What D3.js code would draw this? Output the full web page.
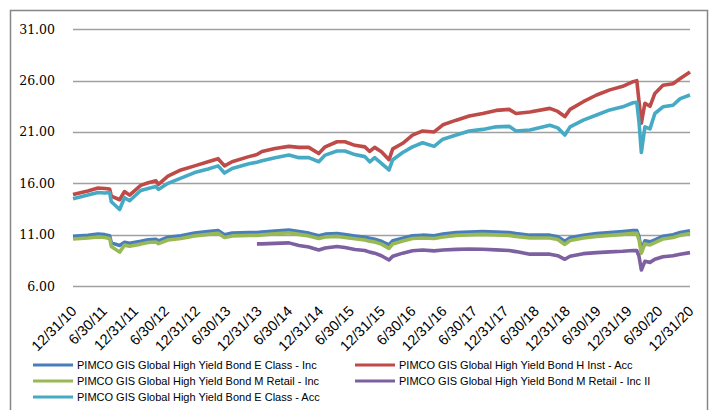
<!DOCTYPE html>
<html>
<head>
<meta charset="utf-8">
<script src="https://cdn.jsdelivr.net/npm/d3@7"></script>
<style>
  body { margin: 0; background: #fff; }
  svg { display: block; }
</style>
</head>
<body>
<svg id="chart" width="713" height="410"></svg>
<script>
var dates = ["2010-12-31","2011-03-29","2011-05-28","2011-07-07","2011-08-05","2011-08-15","2011-10-03","2011-11-01","2011-12-01",
  "2012-02-05","2012-03-20","2012-05-05","2012-05-20","2012-07-15","2012-09-30","2012-12-20","2013-03-10","2013-05-08","2013-06-15",
  "2013-07-30","2013-11-06","2013-12-24","2014-01-23","2014-04-10","2014-07-01","2014-08-30","2014-10-27","2014-12-25","2015-02-01",
  "2015-04-12","2015-05-29","2015-07-27","2015-09-24","2015-10-23","2015-11-21","2015-12-31","2016-02-14","2016-03-07","2016-05-05",
  "2016-07-02","2016-08-31","2016-11-07","2016-12-29","2017-03-18","2017-06-03","2017-08-22","2017-11-09","2018-01-25","2018-03-07",
  "2018-05-28","2018-09-23","2018-11-09","2018-12-21","2019-01-21","2019-04-09","2019-06-27","2019-09-13","2019-11-29","2020-01-29",
  "2020-02-20","2020-03-04","2020-03-18","2020-04-08","2020-05-08","2020-06-06","2020-07-24","2020-09-21","2020-11-03","2020-12-31"];

var eInc = [10.85,10.95,11.05,11.0,10.9,10.2,9.95,10.25,10.15,
  10.35,10.5,10.55,10.4,10.75,10.9,11.15,11.3,11.4,11.0,
  11.15,11.2,11.2,11.25,11.35,11.45,11.3,11.15,10.9,11.05,
  11.1,11.0,10.87,10.75,10.64,10.55,10.35,10.0,10.4,10.65,
  10.9,10.95,10.9,11.05,11.2,11.25,11.3,11.25,11.2,11.1,
  10.95,10.95,10.8,10.35,10.7,10.95,11.1,11.2,11.3,11.4,
  11.4,10.8,9.5,10.4,10.3,10.5,10.85,11.0,11.2,11.39];

var hInstAcc = [14.9,15.25,15.55,15.5,15.45,14.75,14.4,15.2,14.85,
  15.8,16.05,16.25,15.9,16.7,17.3,17.7,18.1,18.4,17.7,
  18.1,18.6,18.8,19.1,19.4,19.6,19.5,19.5,18.9,19.55,
  20.05,20.05,19.7,19.55,19.1,19.5,19.08,18.3,19.35,19.9,
  20.7,21.1,21.0,21.7,22.15,22.55,22.8,23.1,23.2,22.8,
  22.95,23.3,23.0,22.5,23.2,23.95,24.6,25.1,25.45,25.9,
  26.0,24.0,21.85,23.8,23.5,24.75,25.55,25.7,26.2,26.85];

var mRetailInc = [10.58,10.68,10.78,10.73,10.63,9.85,9.3,9.98,9.88,
  10.08,10.23,10.28,10.13,10.48,10.63,10.88,11.03,11.13,10.73,
  10.88,10.93,10.93,10.98,11.08,11.18,11.03,10.88,10.63,10.78,
  10.83,10.73,10.6,10.48,10.37,10.28,10.08,9.67,10.1,10.38,
  10.63,10.68,10.63,10.78,10.93,10.98,11.03,10.98,10.93,10.83,
  10.68,10.68,10.53,10.05,10.43,10.68,10.83,10.93,11.03,11.13,
  11.13,10.5,9.2,10.1,10.0,10.22,10.58,10.73,10.93,11.12];

var mRetailIncII = [null,null,null,null,null,null,null,null,null,
  null,null,null,null,null,null,null,null,null,null,
  null,null,10.1,10.1,10.15,10.2,9.95,9.8,9.5,9.7,
  9.85,9.75,9.55,9.45,9.3,9.2,8.95,8.53,8.9,9.2,
  9.44,9.5,9.42,9.5,9.57,9.6,9.58,9.52,9.45,9.35,
  9.1,9.1,8.95,8.6,8.9,9.15,9.25,9.32,9.38,9.45,
  9.45,8.9,7.56,8.4,8.3,8.6,8.85,8.95,9.1,9.25];

var eAcc = [14.5,14.86,15.1,15.05,15.1,14.2,13.45,14.6,14.3,
  15.3,15.5,15.7,15.4,16.0,16.5,17.05,17.4,17.7,17.0,
  17.45,17.9,18.05,18.2,18.5,18.75,18.5,18.5,18.1,18.75,
  19.15,19.15,18.8,18.6,18.1,18.5,17.95,17.3,18.3,19.0,
  19.55,19.95,19.6,20.3,20.7,21.1,21.25,21.5,21.55,21.1,
  21.2,21.65,21.4,20.7,21.5,22.15,22.65,23.15,23.45,23.85,
  23.9,22.0,19.0,21.5,21.3,22.8,23.45,23.6,24.25,24.6];

var seriesNames = [
  "PIMCO GIS Global High Yield Bond E Class - Inc",
  "PIMCO GIS Global High Yield Bond H Inst - Acc",
  "PIMCO GIS Global High Yield Bond M Retail - Inc",
  "PIMCO GIS Global High Yield Bond M Retail - Inc II",
  "PIMCO GIS Global High Yield Bond E Class - Acc"
];
var seriesColors = ["#4A7EBB", "#BE4B48", "#98B954", "#7D60A0", "#46AAC5"];
var yTicks = [6, 11, 16, 21, 26, 31];
var xTicks = ["2010-12-31","2011-06-30","2011-12-31","2012-06-30","2012-12-31","2013-06-30","2013-12-31",
  "2014-06-30","2014-12-31","2015-06-30","2015-12-31","2016-06-30","2016-12-31","2017-06-30","2017-12-31",
  "2018-06-30","2018-12-31","2019-06-30","2019-12-31","2020-06-30","2020-12-31"];

var parse = d3.timeParse("%Y-%m-%d");
var allSeries = [eInc, hInstAcc, mRetailInc, mRetailIncII, eAcc];

var svg = d3.select("#chart");

// chart frame
svg.append("rect")
  .attr("x", 10.5).attr("y", 10.5)
  .attr("width", 697).attr("height", 420)
  .attr("fill", "none")
  .attr("stroke", "#868686")
  .attr("stroke-width", 1.5);

var x = d3.scaleTime()
  .domain([parse("2010-12-31"), parse("2020-12-31")])
  .range([73, 690]);

var y = d3.scaleLinear()
  .domain([6, 31])
  .range([286, 29.3]);

// gridlines
svg.append("g")
  .selectAll("line")
  .data(yTicks)
  .enter()
  .append("line")
  .attr("x1", 73).attr("x2", 690)
  .attr("y1", d => Math.round(y(d)) + 0.5)
  .attr("y2", d => Math.round(y(d)) + 0.5)
  .attr("stroke", "#A0A0A0")
  .attr("stroke-width", 1.3);

// y axis labels
var yAxis = svg.append("g")
  .attr("transform", "translate(73,0)")
  .call(d3.axisLeft(y).tickValues(yTicks).tickFormat(d3.format(".2f")).tickSize(0).tickPadding(18));
yAxis.select(".domain").remove();
yAxis.selectAll("text")
  .attr("font-family", "'DejaVu Serif', serif")
  .attr("font-size", 12.5)
  .attr("fill", "#000");

// x axis labels, slanted
var xAxis = svg.append("g")
  .attr("transform", "translate(0,286)")
  .call(d3.axisBottom(x).tickValues(xTicks.map(parse)).tickFormat(d3.timeFormat("%-m/%-d/%y")).tickSize(0));
xAxis.select(".domain").remove();
xAxis.selectAll("text")
  .attr("font-family", "'Liberation Sans', Arial, sans-serif")
  .attr("font-size", 14.5)
  .attr("fill", "#000")
  .attr("text-anchor", "end")
  .attr("dy", null)
  .attr("y", 0)
  .attr("transform", "translate(4,26) rotate(-45)");

// lines
var line = d3.line()
  .defined(d => d.v != null)
  .x(d => x(d.date))
  .y(d => y(d.v));

allSeries.forEach(function(vals, i) {
  var pts = dates.map((d, j) => ({date: parse(d), v: vals[j]}));
  svg.append("path")
    .attr("d", line(pts))
    .attr("fill", "none")
    .attr("stroke", seriesColors[i])
    .attr("stroke-width", 3.6)
    .attr("stroke-linejoin", "round");
});

// legend
var legendPos = [[33, 365], [355, 365], [33, 381], [355, 381], [33, 397]];
var legend = svg.append("g")
  .selectAll("g")
  .data(seriesNames)
  .enter()
  .append("g")
  .attr("transform", (d, i) => "translate(" + legendPos[i][0] + "," + legendPos[i][1] + ")");
legend.append("line")
  .attr("x1", 0).attr("x2", 40)
  .attr("stroke", (d, i) => seriesColors[i])
  .attr("stroke-width", 3);
legend.append("text")
  .attr("x", 44)
  .attr("dy", "0.35em")
  .attr("font-family", "'Liberation Sans', Arial, sans-serif")
  .attr("font-size", 11)
  .text(d => d);
</script>
</body>
</html>
